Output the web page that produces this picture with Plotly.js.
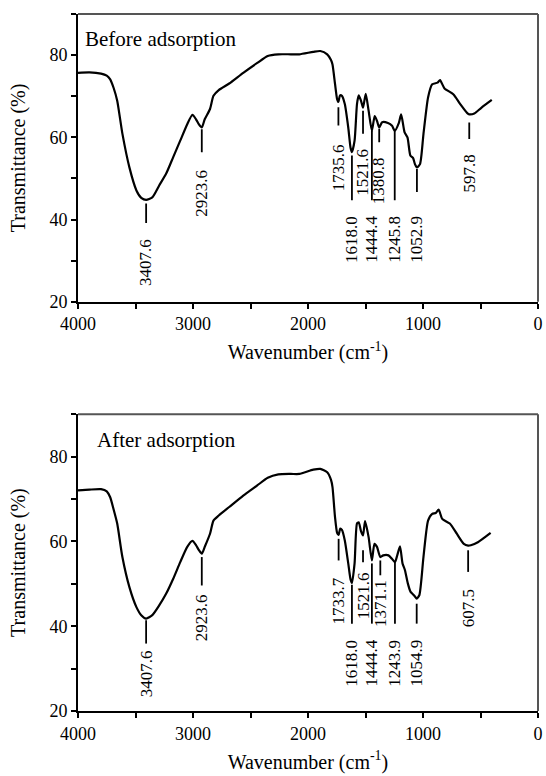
<!DOCTYPE html>
<html>
<head>
<meta charset="utf-8">
<script src="https://cdn.plot.ly/plotly-3.0.1.min.js"></script>
<style>
html,body{margin:0;padding:0;background:#fff;}
#chart{width:546px;height:776px;}
</style>
</head>
<body>
<div id="chart"></div>
<script>
// ---- Data: "Before adsorption" spectrum ----
var beforeWavenumber = [4000, 3900, 3800, 3750, 3720, 3690, 3659, 3614, 3553, 3492, 3450, 3407.6, 3354, 3294, 3233, 3172, 3111, 3050, 3005, 2974, 2950, 2923.6, 2898, 2852, 2822, 2776, 2685, 2563, 2441, 2350, 2258, 2150, 2076, 1954, 1893, 1833, 1800, 1787, 1765, 1747, 1735.6, 1722, 1705, 1680, 1650, 1630, 1618, 1595, 1574, 1559, 1540, 1521.6, 1498, 1473, 1444.4, 1420, 1400, 1380.8, 1355, 1305, 1269, 1245.8, 1209, 1190, 1160, 1135, 1110, 1087, 1070, 1052.9, 1026, 996, 956, 920, 874, 852, 813, 737, 676, 615, 597.8, 554, 493, 402];
var beforeTransmittance = [75.7, 75.8, 75.5, 75.0, 74.1, 72.0, 68.9, 60.9, 52.7, 47.1, 45.3, 44.8, 45.4, 48.3, 51.2, 55.2, 59.2, 63.2, 65.5, 64.4, 63.2, 62.4, 64.4, 66.9, 70.1, 71.5, 73.1, 75.7, 78.1, 79.8, 80.2, 80.2, 80.2, 80.8, 81.0, 80.2, 78.8, 77.7, 73.0, 69.3, 68.6, 70.2, 70.1, 68.1, 62.4, 57.5, 56.4, 59.2, 68.1, 70.2, 69.0, 67.2, 70.6, 66.5, 61.6, 65.2, 64.0, 62.4, 63.7, 63.5, 62.8, 61.6, 63.6, 65.6, 61.2, 60.0, 55.6, 55.0, 53.5, 52.7, 53.5, 60.8, 69.7, 72.9, 73.3, 73.9, 71.9, 70.5, 68.1, 65.9, 65.6, 65.8, 67.2, 69.1];

// ---- Data: "After adsorption" spectrum ----
var afterWavenumber = [4000, 3900, 3800, 3750, 3720, 3690, 3659, 3614, 3553, 3492, 3450, 3407.6, 3354, 3294, 3233, 3172, 3111, 3050, 3005, 2974, 2950, 2923.6, 2898, 2852, 2822, 2776, 2685, 2563, 2441, 2350, 2258, 2150, 2076, 1954, 1893, 1833, 1800, 1787, 1765, 1747, 1733.7, 1720, 1705, 1680, 1650, 1630, 1618, 1595, 1574, 1559, 1540, 1521.6, 1504, 1473, 1444.4, 1422, 1400, 1371.1, 1346, 1300, 1270, 1243.9, 1224, 1200, 1178, 1157, 1132, 1108, 1087, 1070, 1054.9, 1032, 996, 956, 920, 889, 864, 833, 767, 706, 645, 607.5, 584, 523, 412];
var afterTransmittance = [72.0, 72.2, 72.3, 71.8, 70.4, 67.5, 64.2, 56.3, 49.2, 44.5, 42.6, 41.8, 42.6, 44.9, 47.7, 51.2, 55.1, 58.7, 60.1, 59.1, 58.0, 57.1, 58.7, 61.8, 64.9, 66.1, 68.1, 70.8, 73.2, 75.0, 75.8, 75.9, 75.9, 76.9, 77.1, 76.3, 74.5, 72.8, 65.7, 62.0, 61.5, 63.0, 62.7, 60.2, 54.8, 51.0, 50.2, 54.8, 64.2, 64.5, 62.5, 61.4, 64.8, 61.0, 55.5, 59.4, 58.7, 56.3, 56.7, 56.7, 55.9, 55.1, 56.7, 58.8, 54.8, 53.2, 50.1, 48.1, 47.5, 47.0, 46.5, 47.3, 56.3, 64.9, 66.5, 66.7, 67.5, 65.3, 64.2, 61.8, 59.4, 59.0, 59.1, 59.8, 62.0];

// ---- Peak labels ----
var beforePeaks = [3407.6, 2923.6, 1735.6, 1618.0, 1521.6, 1444.4, 1380.8, 1245.8, 1052.9, 597.8];
var beforePeakLabels = ["3407.6", "2923.6", "1735.6", "1618.0", "1521.6", "1444.4", "1380.8", "1245.8", "1052.9", "597.8"];
var afterPeaks = [3407.6, 2923.6, 1733.7, 1618.0, 1521.6, 1444.4, 1371.1, 1243.9, 1054.9, 607.5];
var afterPeakLabels = ["3407.6", "2923.6", "1733.7", "1618.0", "1521.6", "1444.4", "1371.1", "1243.9", "1054.9", "607.5"];

// ---- Label placement (marker-line top / bottom and text top, in % transmittance) ----
var beforeLineTop    = [43.9, 62.0, 67.3, 55.6, 66.5, 61.7, 62.1, 61.7, 52.3, 63.6];
var beforeLineBottom = [39.2, 56.4, 62.9, 44.7, 60.9, 44.7, 58.8, 44.7, 46.7, 59.6];
var beforeTextTop    = [35.7, 52.7, 58.8, 41.5, 57.6, 41.5, 55.6, 41.5, 41.5, 56.4];
var afterLineTop     = [41.4, 56.3, 60.6, 49.8, 57.9, 54.8, 55.5, 55.1, 45.3, 57.9];
var afterLineBottom  = [35.9, 49.6, 55.5, 40.6, 55.1, 40.6, 52.0, 40.6, 40.6, 52.8];
var afterTextTop     = [34.7, 48.1, 52.0, 37.4, 53.1, 37.4, 51.3, 37.4, 37.4, 49.2];

var panelTitles = ["Before adsorption", "After adsorption"];
var xTitle = "Wavenumber (cm<sup>-1</sup>)";
var yTitle = "Transmittance (%)";

var FONT = "Liberation Serif, Times New Roman, serif";

var traces = [
  {x: beforeWavenumber, y: beforeTransmittance, xaxis: 'x', yaxis: 'y', type: 'scatter', mode: 'lines',
   line: {color: '#000', width: 2.2, shape: 'spline', smoothing: 0.6}, hoverinfo: 'skip'},
  {x: afterWavenumber, y: afterTransmittance, xaxis: 'x2', yaxis: 'y2', type: 'scatter', mode: 'lines',
   line: {color: '#000', width: 2.2, shape: 'spline', smoothing: 0.6}, hoverinfo: 'skip'}
];

var shapes = [];
var annotations = [];

function addPeaks(peaks, labels, lt, lb, tt, xr, yr) {
  for (var i = 0; i < peaks.length; i++) {
    shapes.push({type: 'line', xref: xr, yref: yr, x0: peaks[i], x1: peaks[i], y0: lt[i], y1: lb[i],
                 line: {color: '#000', width: 1.8}});
    annotations.push({xref: xr, yref: yr, x: peaks[i], y: tt[i], text: labels[i], showarrow: false,
                      textangle: -90, xanchor: 'center', yanchor: 'top',
                      font: {family: FONT, size: 17, color: '#000'}});
  }
}
addPeaks(beforePeaks, beforePeakLabels, beforeLineTop, beforeLineBottom, beforeTextTop, 'x', 'y');
addPeaks(afterPeaks, afterPeakLabels, afterLineTop, afterLineBottom, afterTextTop, 'x2', 'y2');

// top and right frame lines (grey)
[['x','y'],['x2','y2']].forEach(function (p) {
  shapes.push({type: 'line', xref: p[0] + ' domain', yref: p[1] + ' domain', x0: 0, x1: 1, y0: 1, y1: 1,
               line: {color: '#555', width: 2}});
  shapes.push({type: 'line', xref: p[0] + ' domain', yref: p[1] + ' domain', x0: 1, x1: 1, y0: 0, y1: 1,
               line: {color: '#555', width: 2}});
});

annotations.push({xref: 'x domain', yref: 'y domain', x: 0.01, y: 0.913, xanchor: 'left', yanchor: 'middle',
                  text: panelTitles[0], showarrow: false, font: {family: FONT, size: 21, color: '#000'}});
annotations.push({xref: 'x2 domain', yref: 'y2 domain', x: 0.036, y: 0.912, xanchor: 'left', yanchor: 'middle',
                  text: panelTitles[1], showarrow: false, font: {family: FONT, size: 21, color: '#000'}});

function xAxis(anchor) {
  return {
    anchor: anchor, range: [4000, 0], tick0: 0, dtick: 1000,
    showline: true, linecolor: '#000', linewidth: 2, showgrid: false, zeroline: false,
    ticks: 'outside', ticklen: 5, tickwidth: 2, tickcolor: '#000',
    minor: {dtick: 500, tick0: 0, ticks: 'outside', ticklen: 5, tickwidth: 2, tickcolor: '#000', showgrid: false},
    tickfont: {family: FONT, size: 18, color: '#000'},
    title: {text: xTitle, font: {family: FONT, size: 20, color: '#000'}, standoff: 12}
  };
}
function yAxis(anchor, domain) {
  return {
    anchor: anchor, domain: domain, range: [20, 90], tick0: 0, dtick: 20,
    showline: true, linecolor: '#000', linewidth: 2, showgrid: false, zeroline: false,
    ticks: 'outside', ticklen: 5, tickwidth: 2, tickcolor: '#000',
    minor: {dtick: 10, tick0: 0, ticks: 'outside', ticklen: 5, tickwidth: 2, tickcolor: '#000', showgrid: false},
    tickfont: {family: FONT, size: 18, color: '#000'},
    title: {text: yTitle, font: {family: FONT, size: 20, color: '#000'}, standoff: 18}
  };
}

var layout = {
  width: 546, height: 776,
  margin: {l: 78, r: 8, t: 14, b: 65.3},
  paper_bgcolor: '#fff', plot_bgcolor: '#fff',
  showlegend: false,
  font: {family: FONT, color: '#000'},
  xaxis: xAxis('y'),
  yaxis: yAxis('x', [0.587, 1]),
  xaxis2: xAxis('y2'),
  yaxis2: yAxis('x2', [0, 0.4259]),
  shapes: shapes,
  annotations: annotations
};

Plotly.newPlot('chart', traces, layout, {displayModeBar: false, staticPlot: true});
</script>
</body>
</html>
